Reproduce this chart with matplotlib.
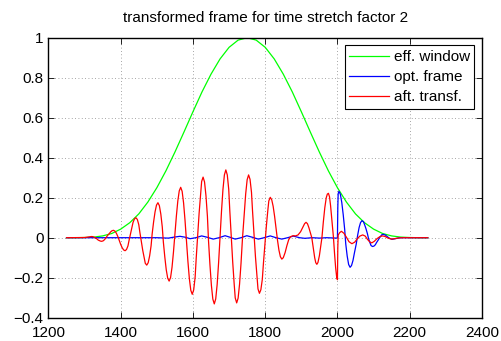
import matplotlib
matplotlib.use("Agg")
import matplotlib.pyplot as plt

plt.rcParams['font.family'] = ['Liberation Sans', 'DejaVu Sans']

# effective window, read every 25 samples from 1250 to 2250
win_x = list(range(1250, 2251, 25))
win_y = [0.000, 0.000, 0.001, 0.003, 0.009, 0.021, 0.043, 0.075, 0.119, 0.178,
         0.250, 0.334, 0.428, 0.528, 0.630, 0.729, 0.818, 0.894, 0.952, 0.988,
         1.000,
         0.988, 0.952, 0.894, 0.818, 0.729, 0.630, 0.528, 0.428, 0.334, 0.250,
         0.178, 0.119, 0.075, 0.043, 0.021, 0.009, 0.003, 0.001, 0.000, 0.000]

# optimal frame
opt_x = [1250, 1500, 1532, 1548, 1564, 1580, 1592, 1608, 1624, 1640, 1656, 1672,
         1689, 1703, 1717, 1733, 1749, 1765, 1781, 1797, 1814, 1830, 1846, 1862,
         1878, 1895, 1910, 1930, 1950, 1970, 1998, 2000, 2001, 2002,
         2004, 2008, 2012, 2016, 2020, 2023, 2027, 2031,
         2035, 2039, 2043, 2047, 2052, 2056, 2060, 2064,
         2068, 2072, 2075, 2079, 2083, 2086, 2090, 2093,
         2097, 2101, 2105, 2108, 2112, 2116, 2120, 2123,
         2127, 2133, 2139, 2145, 2151, 2160, 2170, 2180, 2250]
opt_y = [0.0, 0.0, -0.002, 0.003, 0.007, 0.002, -0.005, 0.0, 0.009, 0.002, -0.007, 0.0,
         0.010, 0.002, -0.007, 0.0, 0.010, 0.002, -0.007, 0.0, 0.009, 0.0, -0.007, 0.0,
         0.008, 0.0, -0.003, 0.0, -0.002, 0.0, -0.002, 0.0, 0.15, 0.22,
         0.232, 0.218, 0.176, 0.115, 0.042, -0.031, -0.092, -0.134,
         -0.148, -0.139, -0.114, -0.076, -0.032, 0.013, 0.051, 0.076,
         0.085, 0.080, 0.066, 0.045, 0.020, -0.004, -0.025, -0.039,
         -0.044, -0.042, -0.035, -0.025, -0.014, -0.002, 0.008, 0.015,
         0.017, 0.013, 0.004, -0.004, -0.008, -0.005, -0.001, 0.0, 0.0]

# frame after transformation
aft_x = [1250, 1300,
         1320, 1323, 1327, 1330, 1334, 1337, 1340, 1344,
         1347, 1351, 1355, 1359, 1363, 1368, 1372, 1376,
         1380, 1384, 1388, 1392, 1396, 1400, 1404, 1408,
         1412, 1416, 1420, 1423, 1427, 1431, 1434, 1438,
         1442, 1446, 1450, 1453, 1457, 1461, 1465, 1468,
         1472, 1476, 1480, 1484, 1487, 1491, 1495, 1499,
         1503, 1507, 1511, 1515, 1518, 1522, 1526, 1530,
         1534, 1538, 1542, 1546, 1550, 1554, 1558, 1562,
         1566, 1570, 1574, 1578, 1582, 1586, 1590, 1594,
         1598, 1602, 1606, 1609, 1613, 1617, 1621, 1624,
         1628, 1632, 1636, 1640, 1643, 1647, 1651, 1655,
         1659, 1663, 1667, 1671, 1675, 1679, 1683, 1687,
         1691, 1695, 1699, 1702, 1706, 1710, 1714, 1717,
         1721, 1725, 1729, 1733, 1737, 1742, 1746, 1750,
         1754, 1758, 1762, 1765, 1769, 1773, 1777, 1780,
         1784, 1788, 1792, 1795, 1799, 1803, 1807, 1810,
         1814, 1818, 1822, 1826, 1830, 1834, 1838, 1842,
         1846, 1850, 1855, 1860, 1865, 1870, 1877, 1884, 1891, 1898,
         1904, 1909, 1913, 1917, 1921, 1925, 1929, 1933, 1937, 1940,
         1943, 1946, 1950, 1954, 1957, 1961, 1965, 1969, 1972, 1975,
         1978, 1981, 1985, 1989, 1992, 1995, 1998, 2000, 2001, 2002,
         2006, 2011, 2018, 2025, 2032, 2040, 2048, 2055, 2062, 2070,
         2077, 2083, 2089, 2095, 2102, 2110, 2118, 2125, 2132, 2140,
         2151, 2160, 2170, 2180, 2250]
aft_y = [0.0, 0.001,
         0.006, 0.005, 0.002, -0.001, -0.006, -0.011, -0.014, -0.017,
         -0.018, -0.016, -0.010, -0.001, 0.010, 0.020, 0.029, 0.035,
         0.037, 0.033, 0.022, 0.006, -0.014, -0.034, -0.050, -0.061,
         -0.065, -0.059, -0.041, -0.014, 0.018, 0.049, 0.076, 0.094,
         0.100, 0.091, 0.065, 0.027, -0.019, -0.064, -0.102, -0.128,
         -0.137, -0.125, -0.091, -0.041, 0.019, 0.079, 0.129, 0.163,
         0.175, 0.160, 0.118, 0.054, -0.021, -0.096, -0.160, -0.202,
         -0.217, -0.199, -0.148, -0.072, 0.018, 0.107, 0.183, 0.234,
         0.252, 0.232, 0.174, 0.087, -0.016, -0.118, -0.205, -0.263,
         -0.283, -0.261, -0.197, -0.102, 0.010, 0.122, 0.217, 0.281,
         0.303, 0.279, 0.210, 0.107, -0.014, -0.135, -0.238, -0.307,
         -0.331, -0.306, -0.233, -0.124, 0.004, 0.132, 0.241, 0.314,
         0.339, 0.314, 0.242, 0.134, 0.007, -0.121, -0.229, -0.301,
         -0.326, -0.302, -0.232, -0.129, -0.006, 0.117, 0.220, 0.290,
         0.314, 0.292, 0.227, 0.131, 0.018, -0.095, -0.191, -0.256,
         -0.278, -0.260, -0.208, -0.130, -0.038, 0.054, 0.132, 0.184,
         0.202, 0.190, 0.157, 0.107, 0.048, -0.012, -0.062, -0.095,
         -0.107, -0.100, -0.075, -0.040, -0.010, 0.005, 0.010, 0.009, 0.014, 0.030,
         0.052, 0.070, 0.077, 0.070, 0.050, 0.025, 0.0, -0.050, -0.100, -0.125,
         -0.133, -0.124, -0.090, -0.040, 0.0, 0.080, 0.150, 0.200, 0.218, 0.222,
         0.205, 0.160, 0.080, 0.0, -0.080, -0.150, -0.200, -0.210, -0.050, 0.013,
         0.025, 0.032, 0.022, 0.002, -0.020, -0.030, -0.022, -0.005, 0.008, 0.014,
         0.008, -0.008, -0.020, -0.026, -0.018, -0.004, 0.006, 0.009, 0.006, -0.002,
         -0.007, -0.004, -0.001, 0.0, 0.0]

x_ticks = [1200, 1400, 1600, 1800, 2000, 2200, 2400]
y_ticks = [-0.4, -0.2, 0, 0.2, 0.4, 0.6, 0.8, 1]
y_labels = ['\u22120.4', '\u22120.2', '0', '0.2', '0.4', '0.6', '0.8', '1']

fig = plt.figure(figsize=(5.02, 3.41), dpi=100)
ax = fig.add_axes([0.0966, 0.0683, 0.8634, 0.8211])

ax.plot(win_x, win_y, color=(0, 1, 0), lw=0.9, label='eff. window')
ax.plot(opt_x, opt_y, color=(0, 0, 1), lw=0.9, label='opt. frame')
ax.plot(aft_x, aft_y, color=(1, 0, 0), lw=0.9, label='aft. transf.')

ax.set_xlim(1200, 2400)
ax.set_ylim(-0.4, 1)
ax.set_xticks(x_ticks)
ax.set_yticks(y_ticks)
ax.set_yticklabels(y_labels)
ax.tick_params(direction='in', top=True, right=True, labelsize=11, length=4, width=0.6)
ax.tick_params(axis='x', pad=6)
ax.grid(True, linestyle=(0, (1, 3)), color='#888888', lw=0.6)
for s in ax.spines.values():
    s.set_linewidth(1.0)

ax.set_title('transformed frame for time stretch factor 2', fontsize=11, pad=11)
leg = ax.legend(loc='upper right', fontsize=11, fancybox=False, edgecolor='black',
                framealpha=1, handlelength=2.6, borderaxespad=0.5,
                labelspacing=0.4, handletextpad=0.3, borderpad=0.3)
leg.get_frame().set_linewidth(0.8)

fig.savefig('out.png', dpi=100)
